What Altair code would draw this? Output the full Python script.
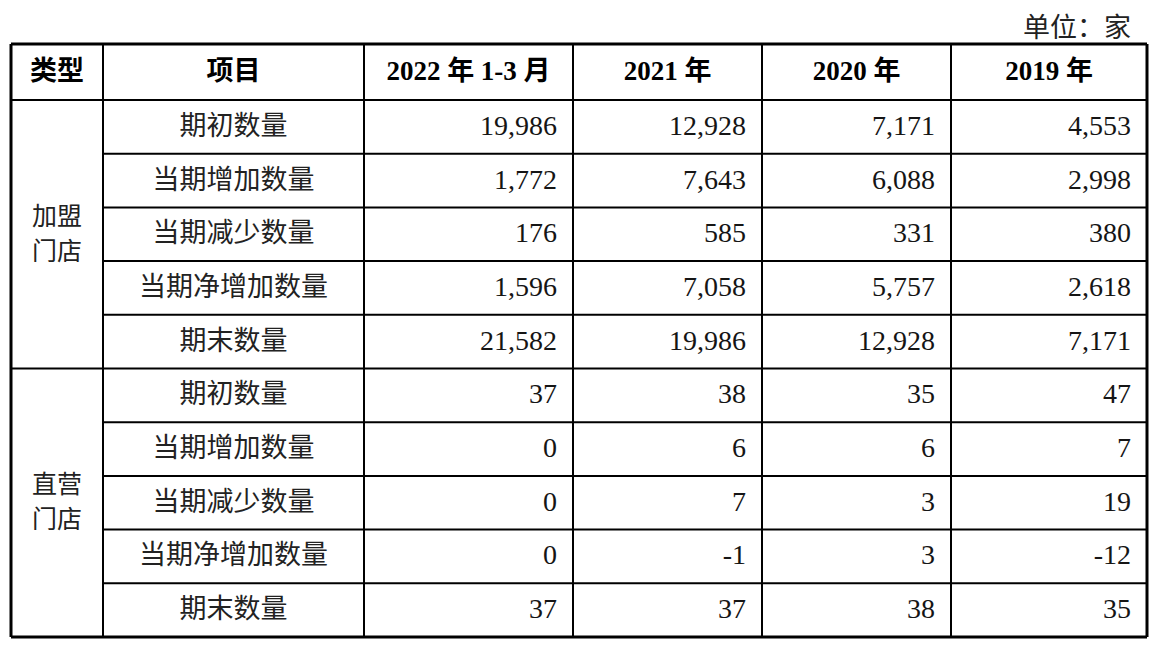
import altair as alt
import pandas as pd

# ---------------- data ----------------
unit_label = "单位：家"
header_labels = ["类型", "项目", "2022 年 1-3 月", "2021 年", "2020 年", "2019 年"]
categories = [["加盟", "门店"], ["直营", "门店"]]
items = ["期初数量", "当期增加数量", "当期减少数量", "当期净增加数量", "期末数量"]

franchise_2022q1 = [19986, 1772, 176, 1596, 21582]
franchise_2021 = [12928, 7643, 585, 7058, 19986]
franchise_2020 = [7171, 6088, 331, 5757, 12928]
franchise_2019 = [4553, 2998, 380, 2618, 7171]

direct_2022q1 = [37, 0, 0, 0, 37]
direct_2021 = [38, 6, 7, -1, 37]
direct_2020 = [35, 6, 3, 3, 38]
direct_2019 = [47, 7, 19, -12, 35]

values = [
    [franchise_2022q1, franchise_2021, franchise_2020, franchise_2019],
    [direct_2022q1, direct_2021, direct_2020, direct_2019],
]

# ---------------- layout ----------------
W, H = 1152, 632
left = 3
col_widths = [92, 261, 209, 189, 189, 196]
top = 36
header_h = 56
row_h = 53.7
n_rows = len(categories) * len(items)
edges = [left]
for w in col_widths:
    edges.append(edges[-1] + w)
right = edges[-1]
bottom = top + header_h + n_rows * row_h
OUTER, INNER = 3, 2
PAD_R = 16
CAT_LINE = 35
CAT_SHIFT = 0

FONT = "Liberation Serif, Times New Roman, Noto Sans CJK SC"
CJK = "Noto Sans CJK SC"
INK = "#151515"

# lines
lines = []
lines.append(dict(x=left, x2=right, y=top, y2=top, w=OUTER))
lines.append(dict(x=left, x2=right, y=top + header_h, y2=top + header_h, w=INNER))
for i in range(1, n_rows):
    yy = top + header_h + i * row_h
    x0 = left if i % len(items) == 0 else edges[1]
    lines.append(dict(x=x0, x2=right, y=yy, y2=yy, w=INNER))
lines.append(dict(x=left, x2=right, y=bottom, y2=bottom, w=OUTER))
for k, e in enumerate(edges):
    w = OUTER if k in (0, len(edges) - 1) else INNER
    lines.append(dict(x=e, x2=e, y=top, y2=bottom, w=w))
lines_df = pd.DataFrame(lines)

# header
hdr = pd.DataFrame([
    dict(t=h, x=(edges[k] + edges[k + 1]) / 2, y=top + header_h / 2)
    for k, h in enumerate(header_labels)
])

# item labels and values
item_rows, val_rows, cat_rows = [], [], []
for g, cat in enumerate(categories):
    gy0 = top + header_h + g * len(items) * row_h
    gc = gy0 + len(items) * row_h / 2 + CAT_SHIFT
    for k, part in enumerate(cat):
        cat_rows.append(dict(t=part, x=(edges[0] + edges[1]) / 2,
                             y=gc + (k - (len(cat) - 1) / 2) * CAT_LINE))
    for r, it in enumerate(items):
        yc = gy0 + (r + 0.5) * row_h
        item_rows.append(dict(t=it, x=(edges[1] + edges[2]) / 2, y=yc))
        for c in range(4):
            v = values[g][c][r]
            val_rows.append(dict(t=f"{v:,}", x=edges[c + 3] - PAD_R, y=yc))
items_df = pd.DataFrame(item_rows)
vals_df = pd.DataFrame(val_rows)
cats_df = pd.DataFrame(cat_rows)
unit_df = pd.DataFrame([dict(t=unit_label, x=right - PAD_R, y=top - 15)])

xs = alt.Scale(domain=[0, W])
ys = alt.Scale(domain=[0, H], reverse=True)


def pos():
    return dict(x=alt.X("x:Q", scale=xs, axis=None),
                y=alt.Y("y:Q", scale=ys, axis=None))


rules = alt.Chart(lines_df).mark_rule(color="#000000").encode(
    x=alt.X("x:Q", scale=xs, axis=None), x2="x2:Q",
    y=alt.Y("y:Q", scale=ys, axis=None), y2="y2:Q",
    size=alt.Size("w:Q", scale=None, legend=None),
)

header = alt.Chart(hdr).mark_text(
    font=FONT, fontSize=27, fontWeight="bold", color="#000000",
    align="center", baseline="middle",
).encode(text="t:N", **pos())

item_text = alt.Chart(items_df).mark_text(
    font=CJK, fontSize=27, color="#222222",
    align="center", baseline="middle",
).encode(text="t:N", **pos())

val_text = alt.Chart(vals_df).mark_text(
    font=FONT, fontSize=28, color=INK,
    align="right", baseline="middle",
).encode(text="t:N", **pos())

cat_text = alt.Chart(cats_df).mark_text(
    font=CJK, fontSize=25, color="#222222",
    align="center", baseline="middle",
).encode(text="t:N", **pos())

unit_text = alt.Chart(unit_df).mark_text(
    font=CJK, fontSize=27, color="#222222",
    align="right", baseline="middle",
).encode(text="t:N", **pos())

chart = alt.layer(rules, header, item_text, val_text, cat_text, unit_text).properties(
    width=W, height=H, autosize=alt.AutoSizeParams(type="none"), padding=0,
    background="#ffffff",
).configure_view(stroke=None)

chart.save("out.html", embed_options={"renderer": "svg", "actions": False})
